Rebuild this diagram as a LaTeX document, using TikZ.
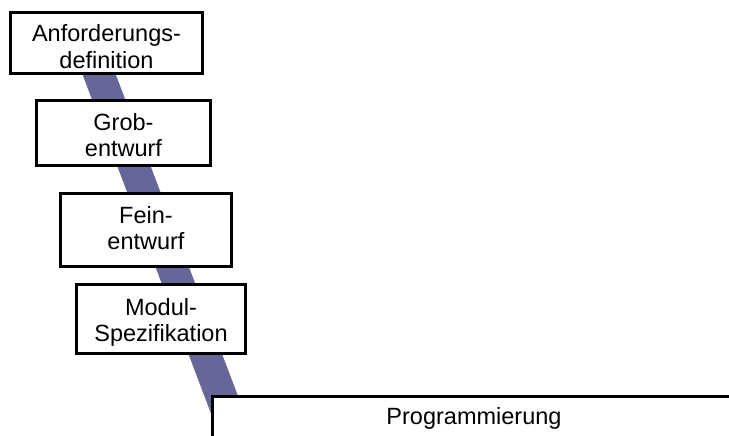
\documentclass[tikz,border=0pt]{standalone}
\usepackage{fontspec}
\setmainfont{Liberation Sans}
\definecolor{bandblue}{RGB}{102,102,153}
\tikzset{
  phasebox/.style={draw=black, line width=3pt, fill=white, rectangle, inner sep=0pt},
  phasetext/.style={align=center, inner sep=0pt, font=\fontsize{23.5}{26.6}\selectfont},
}
\begin{document}
\begin{tikzpicture}[x=1pt, y=-1pt]
  \useasboundingbox (0,0) rectangle (729,436);
  \clip (0,0) rectangle (729,436);

  % diagonal band running behind the phases
  \fill[bandblue] (70.6,43) -- (103.8,43) -- (251.7,432) -- (218.0,432) -- cycle;

  % phase boxes
  \node[phasebox, minimum width=192pt, minimum height=61pt] (b1) at (106.5,43) {};
  \node[phasebox, minimum width=174pt, minimum height=65pt] (b2) at (123.5,133) {};
  \node[phasebox, minimum width=171pt, minimum height=73pt] (b3) at (146,230) {};
  \node[phasebox, minimum width=169pt, minimum height=69pt] (b4) at (161,319) {};
  \node[phasebox, phasetext, minimum width=523pt, minimum height=44.8pt] (b5) at (474,418.9) {Programmierung};

  % phase labels
  \node[phasetext] (t1) at ([yshift=-3.4pt]b1.center) {Anforderungs-\\definition};
  \node[phasetext] (t2) at ([yshift=-2.1pt]b2.center) {Grob-\\entwurf};
  \node[phasetext] (t3) at ([yshift=1.9pt]b3.center) {Fein-\\entwurf};
  \node[phasetext] (t4) at ([yshift=-3.3pt]b4.center) {Modul-\\Spezifikation};
\end{tikzpicture}
\end{document}
